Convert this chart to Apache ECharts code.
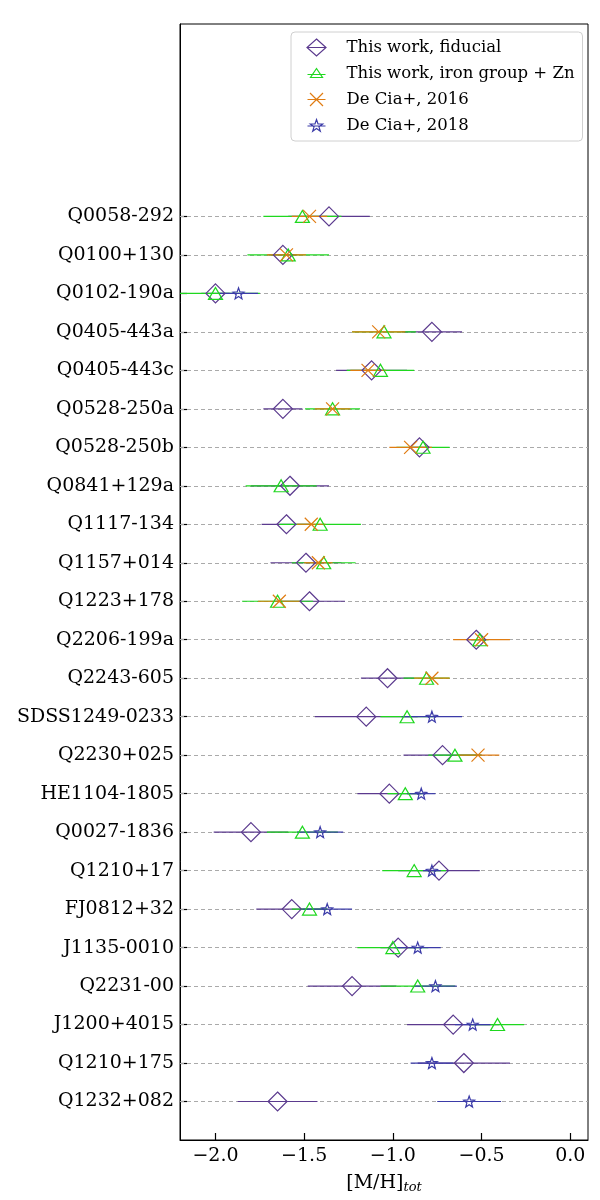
<!DOCTYPE html>
<html>
<head>
<meta charset="utf-8">
<script src="https://cdn.jsdelivr.net/npm/echarts@6/dist/echarts.min.js"></script>
<style>
  html, body { margin: 0; padding: 0; background: #fff; }
  #chart { width: 600px; height: 1200px; }
</style>
</head>
<body>
<div id="chart"></div>
<script>
// systems, top to bottom
const names = ['Q0058-292', 'Q0100+130', 'Q0102-190a', 'Q0405-443a', 'Q0405-443c', 'Q0528-250a',
  'Q0528-250b', 'Q0841+129a', 'Q1117-134', 'Q1157+014', 'Q1223+178', 'Q2206-199a', 'Q2243-605',
  'SDSS1249-0233', 'Q2230+025', 'HE1104-1805', 'Q0027-1836', 'Q1210+17', 'FJ0812+32', 'J1135-0010',
  'Q2231-00', 'J1200+4015', 'Q1210+175', 'Q1232+082']

// [M/H]tot and 1-sigma errors, null = no measurement
const fidVal = [-1.36, -1.62, -2.00, -0.78, -1.12, -1.62, -0.85, -1.58, -1.60, -1.49, -1.47, -0.53,
  -1.03, -1.15, -0.72, -1.02, -1.80, -0.74, -1.57, -0.97, -1.23, -0.66, -0.60, -1.65]
const fidErr = [0.23, 0.08, 0.08, 0.17, 0.20, 0.11, 0.05, 0.22, 0.14, 0.20, 0.20, 0.05,
  0.15, 0.29, 0.22, 0.18, 0.21, 0.23, 0.20, 0.10, 0.25, 0.26, 0.26, 0.225]

const ironVal = [-1.51, -1.59, -2.00, -1.05, -1.07, -1.34, -0.83, -1.63, -1.41, -1.39, -1.65, -0.51,
  -0.81, -0.92, -0.65, -0.93, -1.51, -0.88, -1.47, -1.00, -0.86, -0.41, null, null]
const ironErr = [0.22, 0.23, 0.25, 0.18, 0.19, 0.155, 0.15, 0.20, 0.23, 0.18, 0.20, 0.05,
  0.13, 0.15, 0.15, 0.10, 0.20, 0.18, 0.10, 0.20, 0.21, 0.15, null, null]

const dc16Val = [-1.47, -1.60, null, -1.08, -1.14, -1.34, -0.90, null, -1.46, -1.42, -1.64, -0.50,
  -0.78, null, -0.52, null, null, null, null, null, null, null, null, null]
const dc16Err = [0.10, 0.11, null, 0.15, 0.10, 0.10, 0.12, null, 0.08, 0.08, 0.12, 0.16,
  0.10, null, 0.12, null, null, null, null, null, null, null, null, null]

const dc18Val = [null, null, -1.87, null, null, null, null, null, null, null, null, null,
  null, -0.78, null, -0.84, -1.41, -0.78, -1.37, -0.86, -0.76, -0.55, -0.78, -0.57]
const dc18Err = [null, null, 0.11, null, null, null, null, null, null, null, null, null,
  null, 0.17, null, 0.08, 0.13, 0.05, 0.14, 0.13, 0.12, 0.10, 0.12, 0.18]

const xTicks = [-2.0, -1.5, -1.0, -0.5, 0.0]

const FONT = 'DejaVu Serif'
const n = names.length
const rowY = i => n - 1 - i
const rows = names.map((_, i) => rowY(i))

const sym = {
  diamond: 'path://M10,0L20,10L10,20L0,10Z',
  triangle: 'path://M10,0L20,17L0,17Z',
  cross: 'path://M0,0L20,20M20,0L0,20',
  star: 'path://M10,0L12.4,7L20,7.6L14.2,12.2L16.2,19.6L10,15.4L3.8,19.6L5.8,12.2L0,7.6L7.6,7Z'
}
// legend icons sit in a fixed 22x18 box (the two leading moveTos pin the bounds)
const legendIcon = {
  diamond: 'path://M0,0M22,18M11,0.5L20.5,9L11,17.5L1.5,9ZM1.5,9L20.5,9',
  triangle: 'path://M0,0M22,18M11,4L17,13L5,13ZM2,10L20,10',
  cross: 'path://M0,0M22,18M4.5,2.5L17.5,15.5M17.5,2.5L4.5,15.5M2,9L20,9',
  star: 'path://M0,0M22,18M11,3L12.53,7.4L17.18,7.49L13.47,10.3L14.82,14.76L11,12.1L7.18,14.76L8.53,10.3L4.82,7.49L9.47,7.4ZM2,9.5L20,9.5'
}

const sets = [
  { name: 'This work, fiducial', val: fidVal, err: fidErr, color: '#5b3a8e', symbol: 'diamond', size: [19, 19] },
  { name: 'This work, iron group + Zn', val: ironVal, err: ironErr, color: '#1fd81f', symbol: 'triangle', size: [14, 12] },
  { name: 'De Cia+, 2016', val: dc16Val, err: dc16Err, color: '#e07c12', symbol: 'cross', size: [13, 13] },
  { name: 'De Cia+, 2018', val: dc18Val, err: dc18Err, color: '#3b3ba8', symbol: 'star', size: [11, 11] }
]

function errSeries(s) {
  const data = []
  s.val.forEach((v, i) => { if (v != null) data.push([v - s.err[i], v + s.err[i], rowY(i)]) })
  return {
    type: 'custom',
    name: s.name + ' err',
    clip: true,
    silent: true,
    encode: { x: [0, 1], y: 2 },
    data: data,
    renderItem(params, api) {
      const a = api.coord([api.value(0), api.value(2)])
      const b = api.coord([api.value(1), api.value(2)])
      return {
        type: 'line',
        shape: { x1: a[0], y1: a[1], x2: b[0], y2: b[1] },
        style: { stroke: s.color, lineWidth: 1.2 }
      }
    }
  }
}

function markSeries(s) {
  const data = []
  s.val.forEach((v, i) => { if (v != null) data.push([v, rowY(i)]) })
  return {
    type: 'scatter',
    name: s.name,
    symbol: sym[s.symbol],
    symbolSize: s.size,
    data: data,
    itemStyle: { color: 'none', borderColor: s.color, borderWidth: 1.2, opacity: 1 },
    z: 3
  }
}

const series = []
series.push({
  type: 'line',
  name: 'rows',
  data: [],
  silent: true,
  markLine: {
    silent: true,
    z: 1,
    symbol: 'none',
    label: { show: false },
    lineStyle: { color: '#aaaaaa', type: [4, 3], width: 1 },
    data: rows.map(y => ({ yAxis: y }))
  }
})
sets.forEach(s => series.push(errSeries(s)))
sets.forEach(s => series.push(markSeries(s)))

const chart = echarts.init(document.getElementById('chart'))
chart.setOption({
  animation: false,
  backgroundColor: '#fff',
  textStyle: { fontFamily: FONT },
  grid: { left: 180, right: 12, top: 24, bottom: 60, show: true, borderColor: '#000', borderWidth: 1 },
  legend: {
    orient: 'vertical',
    left: 291,
    top: 32,
    padding: [4, 8, 4, 12],
    itemWidth: 22,
    itemHeight: 18,
    itemGap: 3,
    symbolKeepAspect: true,
    borderColor: '#d0d0d0',
    borderWidth: 1,
    borderRadius: 4,
    backgroundColor: '#fff',
    textStyle: { fontFamily: FONT, fontSize: 16.5, lineHeight: 20, color: '#000', padding: [0, 0, 0, 14] },
    data: sets.map(s => ({
      name: s.name,
      icon: legendIcon[s.symbol],
      itemStyle: { color: 'none', borderColor: s.color, borderWidth: 1.2 }
    }))
  },
  xAxis: {
    type: 'value',
    min: -2.2,
    max: 0.1,
    name: '[M/H]{t|tot}',
    nameLocation: 'middle',
    nameGap: 33,
    nameTextStyle: {
      fontFamily: FONT, fontSize: 19, color: '#000',
      rich: { t: { fontFamily: FONT, fontStyle: 'italic', fontSize: 13, color: '#000', verticalAlign: 'bottom', padding: [8, 0, 0, 0] } }
    },
    axisLine: { onZero: false, lineStyle: { color: '#000', width: 1 } },
    axisTick: { inside: true, length: 7, customValues: xTicks, lineStyle: { color: '#000', width: 1.2 } },
    axisLabel: {
      customValues: xTicks,
      margin: 7,
      fontFamily: FONT, fontSize: 19, color: '#000',
      formatter: v => v.toFixed(1).replace('-', '\u2212')
    },
    splitLine: { show: false }
  },
  yAxis: {
    type: 'value',
    min: -1,
    max: 28,
    axisLine: { onZero: false, lineStyle: { color: '#000', width: 1 } },
    axisTick: { inside: true, length: 7, customValues: rows, lineStyle: { color: '#000', width: 1.2 } },
    axisLabel: {
      customValues: rows,
      margin: 6,
      fontFamily: FONT, fontSize: 19, color: '#000',
      formatter: v => names[n - 1 - v] || ''
    },
    splitLine: { show: false }
  },
  series: series
})
window.addEventListener('resize', () => chart.resize())
</script>
</body>
</html>
